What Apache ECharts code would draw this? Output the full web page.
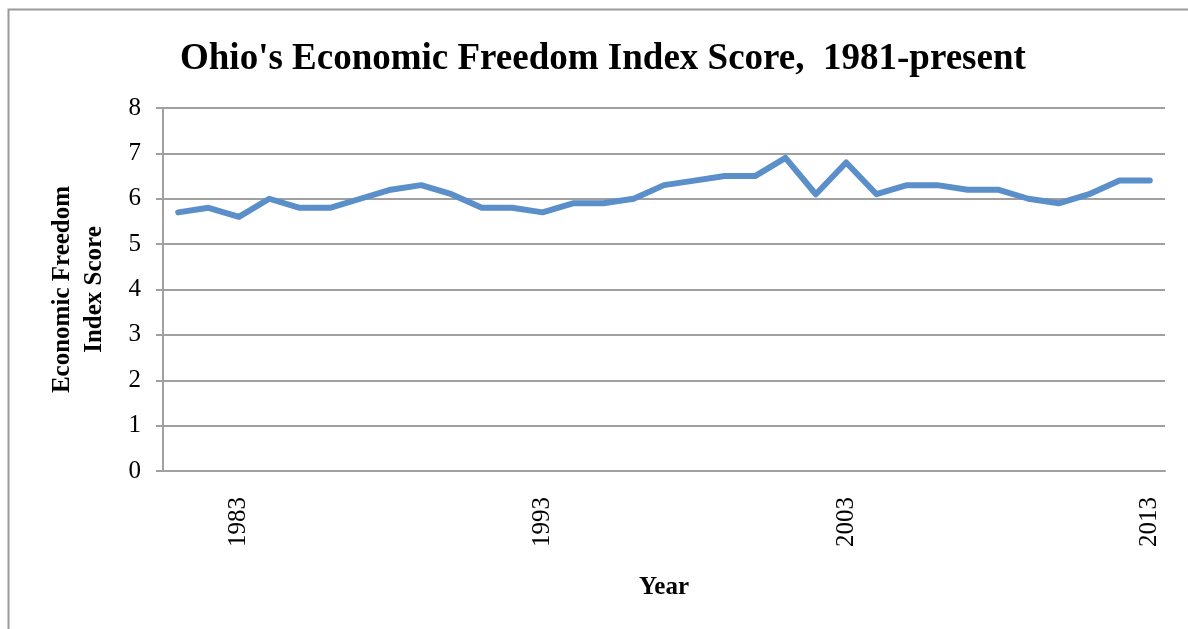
<!DOCTYPE html>
<html>
<head>
<meta charset="utf-8">
<script src="https://cdn.jsdelivr.net/npm/echarts@6/dist/echarts.min.js"></script>
<style>
  html, body { margin: 0; padding: 0; background: #fff; }
  #chart { width: 1188px; height: 629px; }
</style>
</head>
<body>
<div id="chart"></div>
<script>
var years = [];
for (var y = 1981; y <= 2013; y++) years.push(String(y));

var scores = [5.7, 5.8, 5.6, 6.0, 5.8, 5.8, 6.0, 6.2, 6.3, 6.1,
              5.8, 5.8, 5.7, 5.9, 5.9, 6.0, 6.3, 6.4, 6.5, 6.5,
              6.9, 6.1, 6.8, 6.1, 6.3, 6.3, 6.2, 6.2, 6.0, 5.9,
              6.1, 6.4, 6.4];

var shownYears = ["1983", "1993", "2003", "2013"];

var font = "'Liberation Serif', 'Times New Roman', serif";
var myChart = echarts.init(document.getElementById("chart"));

var option = {
    animation: false,
    textStyle: { fontFamily: font },
    graphic: [{
        type: 'rect',
        shape: { x: 8.5, y: 9.5, width: 1300, height: 700 },
        style: { fill: 'none', stroke: '#9a9a9a', lineWidth: 2 },
        silent: true
    }],
    title: {
        text: "Ohio's Economic Freedom Index Score,  1981-present",
        left: 175,
        top: 36,
        textStyle: { fontFamily: font, fontSize: 37, fontWeight: 'bold', color: '#000' }
    },
    grid: { left: 163, right: 23, top: 108, bottom: 158 },
    xAxis: {
        type: 'category',
        data: years,
        boundaryGap: true,
        name: 'Year',
        nameLocation: 'middle',
        nameGap: 104,
        nameTextStyle: { fontFamily: font, fontSize: 25, fontWeight: 'bold', color: '#000' },
        axisLine: { lineStyle: { color: '#a0a0a0', width: 2 } },
        axisTick: { show: false },
        axisLabel: {
            rotate: 90,
            margin: 26,
            fontFamily: font,
            fontSize: 25,
            color: '#000',
            interval: function (i, v) { return shownYears.indexOf(v) >= 0; }
        }
    },
    yAxis: {
        type: 'value',
        min: 0,
        max: 8,
        interval: 1,
        name: 'Economic Freedom\nIndex Score',
        nameLocation: 'middle',
        nameRotate: 90,
        nameGap: 52,
        nameTextStyle: { fontFamily: font, fontSize: 25, fontWeight: 'bold', color: '#000', lineHeight: 32 },
        axisLine: { show: true, lineStyle: { color: '#a0a0a0', width: 2 } },
        axisTick: { show: true, length: 7, lineStyle: { color: '#a0a0a0', width: 2 } },
        axisLabel: { fontFamily: font, fontSize: 25, color: '#000', margin: 22 },
        splitLine: { lineStyle: { color: '#a0a0a0', width: 2 } }
    },
    series: [{
        type: 'line',
        data: scores,
        showSymbol: false,
        lineStyle: { color: '#5b8fc9', width: 6, join: 'round', cap: 'round' },
        itemStyle: { color: '#5b8fc9' }
    }]
};

myChart.setOption(option);
window.addEventListener("resize", function () { myChart.resize(); });
</script>
</body>
</html>
